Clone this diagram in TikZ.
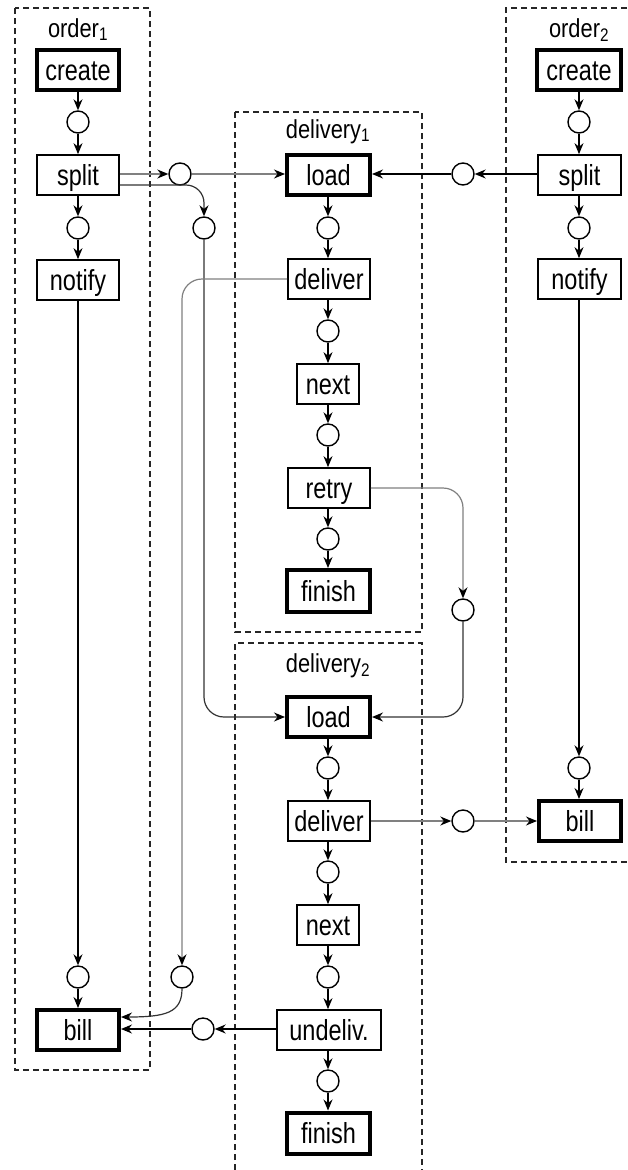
\documentclass[tikz,border=0pt]{standalone}
\usepackage{fontspec}
\setmainfont{Liberation Sans}
\usetikzlibrary{arrows.meta}
\newcommand{\lbl}[1]{\scalebox{0.81}[1]{#1}}
\newcommand{\ttl}[1]{\scalebox{0.84}[1]{#1}}
\begin{document}
\begin{tikzpicture}[x=1pt,y=-1pt,
  tr/.style={draw, line width=1.7pt, minimum width=82pt, minimum height=40pt,
    inner sep=0pt, font=\fontsize{29}{32}\selectfont, text height=20pt, text depth=0pt},
  tb/.style={tr, line width=4pt},
  pl/.style={circle, draw, line width=1.4pt, minimum size=22pt, inner sep=0pt},
  arc/.style={-{Stealth[length=11pt,width=9pt,color=black]}, line width=1.2pt},
  garc/.style={arc, draw=black!50},
  frame/.style={draw=black!85, line width=1.2pt, dash pattern=on 6pt off 4pt},
  ttlnode/.style={anchor=base, font=\fontsize{26}{30}\selectfont, inner sep=0pt}]
\fill[white] (0,0) rectangle (627,1170);
\useasboundingbox (0,0) rectangle (627,1170);

% frames
\draw[frame] (15,8) rectangle (150,1070);
\draw[frame] (235,112) rectangle (422,632);
\draw[frame] (235,1170) -- (235,643) -- (422,643) -- (422,1170);
\draw[frame] (627,8) -- (506,8) -- (506,862) -- (627,862);

% titles
\node[ttlnode] (t1) at (78,37) {\ttl{order\textsubscript{1}}};
\node[ttlnode] (t2) at (579,37) {\ttl{order\textsubscript{2}}};
\node[ttlnode] (t3) at (328,138) {\ttl{delivery\textsubscript{1}}};
\node[ttlnode] (t4) at (328,672) {\ttl{delivery\textsubscript{2}}};

% order1
\node[tb] (create1) at (78,70) {\lbl{create}};
\node[pl] (o1a) at (78,122) {};
\node[tr] (split1) at (78,175) {\lbl{split}};
\node[pl] (o1b) at (78,228) {};
\node[tr] (notify1) at (78,280) {\lbl{notify}};
\node[pl] (o1c) at (78,977) {};
\node[tb] (bill1) at (78,1030) {\lbl{bill}};

% order2
\node[tb, minimum width=84pt] (create2) at (579,70) {\lbl{create}};
\node[pl] (o2a) at (579,122) {};
\node[tr, minimum width=83pt] (split2) at (579.5,175) {\lbl{split}};
\node[pl] (o2b) at (579,228) {};
\node[tr, minimum width=83pt] (notify2) at (579.5,279) {\lbl{notify}};
\node[pl] (o2c) at (579,768) {};
\node[tb] (bill2) at (580,821) {\lbl{bill}};

% delivery1
\node[tb, minimum width=83pt] (load1) at (328.5,175) {\lbl{load}};
\node[pl] (d1a) at (328,228) {};
\node[tr] (deliver1) at (329,279) {\lbl{deliver}};
\node[pl] (d1b) at (328,331) {};
\node[tr, minimum width=62pt] (next1) at (328,384) {\lbl{next}};
\node[pl] (d1c) at (328,435) {};
\node[tr] (retry1) at (329,488) {\lbl{retry}};
\node[pl] (d1d) at (328,539) {};
\node[tb, minimum width=83pt, minimum height=42pt] (finish1) at (328.5,591) {\lbl{finish}};

% delivery2
\node[tb, minimum width=83pt] (load2) at (328.5,717) {\lbl{load}};
\node[pl] (d2a) at (328,768) {};
\node[tr] (deliver2) at (329,821) {\lbl{deliver}};
\node[pl] (d2b) at (328,872) {};
\node[tr, minimum width=62pt] (next2) at (328,925) {\lbl{next}};
\node[pl] (d2c) at (328,977) {};
\node[tr, minimum width=104pt] (undeliv) at (329,1030) {\lbl{undeliv.}};
\node[pl] (d2d) at (328,1081) {};
\node[tb, minimum width=83pt, minimum height=41pt] (finish2) at (328.5,1133) {\lbl{finish}};

% interface places
\node[pl] (pA) at (180,174) {};
\node[pl] (pB) at (463,174) {};
\node[pl] (pC) at (204,228) {};
\node[pl] (pD) at (182,977) {};
\node[pl] (pE) at (463,610) {};
\node[pl] (pF) at (463,821) {};
\node[pl] (pG) at (203,1029) {};

% order1 chain
\draw[arc] (create1) -- (o1a);
\draw[arc] (o1a) -- (split1);
\draw[arc] (split1) -- (o1b);
\draw[arc] (o1b) -- (notify1);
\draw[arc] (notify1) -- (o1c);
\draw[arc] (o1c) -- (bill1);

% order2 chain
\draw[arc] (create2.south -| o2a) -- (o2a);
\draw[arc] (o2a) -- (o2a |- split2.north);
\draw[arc] (split2.south -| o2b) -- (o2b);
\draw[arc] (o2b) -- (o2b |- notify2.north);
\draw[arc] (notify2.south -| o2c) -- (o2c);
\draw[arc] (o2c) -- (o2c |- bill2.north);

% delivery1 chain
\draw[arc] (load1.south -| d1a) -- (d1a);
\draw[arc] (d1a) -- (d1a |- deliver1.north);
\draw[arc] (deliver1.south -| d1b) -- (d1b);
\draw[arc] (d1b) -- (next1);
\draw[arc] (next1) -- (d1c);
\draw[arc] (d1c) -- (d1c |- retry1.north);
\draw[arc] (retry1.south -| d1d) -- (d1d);
\draw[arc] (d1d) -- (d1d |- finish1.north);

% delivery2 chain
\draw[arc] (load2.south -| d2a) -- (d2a);
\draw[arc] (d2a) -- (d2a |- deliver2.north);
\draw[arc] (deliver2.south -| d2b) -- (d2b);
\draw[arc] (d2b) -- (next2);
\draw[arc] (next2) -- (d2c);
\draw[arc] (d2c) -- (d2c |- undeliv.north);
\draw[arc] (undeliv.south -| d2d) -- (d2d);
\draw[arc] (d2d) -- (d2d |- finish2.north);

% cross connections
\draw[garc] (split1.east |- pA) -- (pA);
\draw[garc] (pA) -- (load1.west |- pA);
\draw[arc] (split2.west |- pB) -- (pB);
\draw[arc] (pB) -- (load1.east |- pB);
\draw[arc, draw=black!80, rounded corners=18pt] ([yshift=-10pt]split1.east) -| (pC.north);
\draw[arc, draw=black!80, rounded corners=20pt] (pC.south) |- (load2.west);
\draw[garc, rounded corners=20pt] (deliver1.west) -| (pD.north);
\draw[arc, draw=black!80] (pD.south) .. controls +(0,24) and +(45,0) .. ([yshift=13pt]bill1.east);
\draw[garc, rounded corners=20pt] (retry1.east) -| (pE.north);
\draw[arc, draw=black!80, rounded corners=20pt] (pE.south) |- (load2.east);
\draw[garc] (deliver2.east |- pF) -- (pF);
\draw[garc] (pF) -- (bill2.west |- pF);
\draw[arc] (undeliv.west |- pG) -- (pG);
\draw[arc] (pG) -- (bill1.east |- pG);
\end{tikzpicture}
\end{document}
